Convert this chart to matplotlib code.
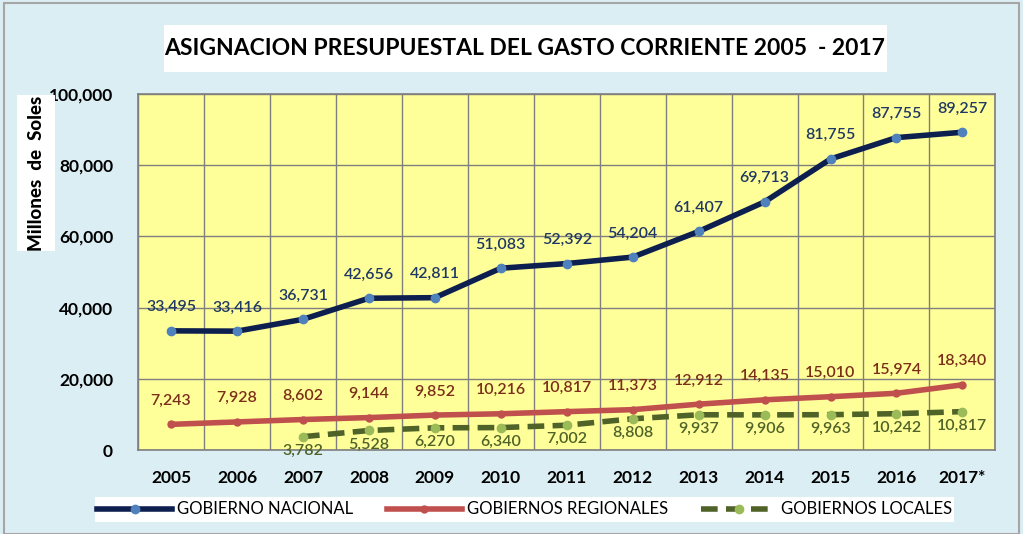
import numpy as np
import matplotlib
matplotlib.use("Agg")
import matplotlib.pyplot as plt
from matplotlib.patches import Rectangle
from matplotlib.ticker import FuncFormatter, MultipleLocator

plt.rcParams['font.family'] = ['Lato', 'DejaVu Sans']

years = ['2005', '2006', '2007', '2008', '2009', '2010', '2011', '2012',
         '2013', '2014', '2015', '2016', '2017*']
nacional = [33495, 33416, 36731, 42656, 42811, 51083, 52392, 54204,
            61407, 69713, 81755, 87755, 89257]
regional = [7243, 7928, 8602, 9144, 9852, 10216, 10817, 11373,
            12912, 14135, 15010, 15974, 18340]
locales_years = years[2:]
locales = [3782, 5528, 6270, 6340, 7002, 8808, 9937, 9906, 9963, 10242, 10817]

bg = '#dbeef4'
fig = plt.figure(figsize=(10.23, 5.34), dpi=100, facecolor=bg)
ax = fig.add_axes([0.135, 0.157, 0.838, 0.667])
ax.set_facecolor('#ffff99')

x = np.arange(len(years))
xl = np.arange(2, len(years))

ax.plot(x, nacional, color='#0d1f4f', lw=4, marker='o', ms=6,
        mfc='#4f81bd', mec='#4f81bd', zorder=4, label='GOBIERNO NACIONAL')
ax.plot(x, regional, color='#c0504d', lw=4, marker='o', ms=5,
        mfc='#c0504d', mec='#c0504d', zorder=4, label='GOBIERNOS REGIONALES')
ax.plot(xl, locales, color='#4f6228', lw=4, ls=(0, (3, 1.5)), marker='o', ms=6,
        mfc='#9bbb59', mec='#9bbb59', zorder=3, label='GOBIERNOS LOCALES')

for i, v in enumerate(nacional):
    ax.annotate(f'{v:,}', (x[i], v), xytext=(0, 12), textcoords='offset points',
                ha='center', va='bottom', fontsize=11.5, color='#1f3864',
                fontweight='semibold')
for i, v in enumerate(regional):
    ax.annotate(f'{v:,}', (x[i], v), xytext=(0, 12), textcoords='offset points',
                ha='center', va='bottom', fontsize=11.5, color='#7b2e1a',
                fontweight='semibold')
for i, v in enumerate(locales):
    ax.annotate(f'{v:,}', (xl[i], v), xytext=(0, -5), textcoords='offset points',
                ha='center', va='top', fontsize=11.5, color='#4f6228',
                fontweight='semibold')

ax.set_xlim(-0.5, len(years) - 0.5)
ax.set_ylim(0, 100000)
ax.yaxis.set_major_locator(MultipleLocator(20000))
ax.yaxis.set_major_formatter(FuncFormatter(lambda v, p: f'{int(v):,}'))
ax.set_xticks(x)
ax.set_xticklabels(years)
ax.set_xticks(np.arange(-0.5, len(years)), minor=True)
ax.grid(True, which='minor', axis='x', color='#7f7f7f', lw=1)
ax.grid(True, which='major', axis='y', color='#7f7f7f', lw=1)
ax.set_axisbelow(True)
ax.tick_params(which='both', length=0)
ax.tick_params(axis='x', pad=14)
ax.tick_params(axis='y', pad=18)
for lab in ax.get_xticklabels() + ax.get_yticklabels():
    lab.set_fontweight('bold')
    lab.set_fontsize(12.5)
for s in ax.spines.values():
    s.set_color('#7f7f7f')
    s.set_linewidth(1.2)

# title box
fig.patches.append(Rectangle((0.16, 0.866), 0.707, 0.088, transform=fig.transFigure,
                             facecolor='white', edgecolor='none'))
fig.text(0.513, 0.91, 'ASIGNACION PRESUPUESTAL DEL GASTO CORRIENTE 2005  - 2017',
         ha='center', va='center', fontsize=16.5, fontweight='bold')

# y label box
fig.patches.append(Rectangle((0.017, 0.53), 0.037, 0.292, transform=fig.transFigure,
                             facecolor='white', edgecolor='none'))
fig.text(0.036, 0.676, 'Millones  de  Soles', rotation=90, ha='center', va='center',
         fontsize=13.5, fontweight='black')

# legend box
fig.patches.append(Rectangle((0.093, 0.022), 0.84, 0.048, transform=fig.transFigure,
                             facecolor='white', edgecolor='none'))
leg = fig.legend(loc='center', bbox_to_anchor=(0.513, 0.046), ncol=3, frameon=False,
                 fontsize=12, handlelength=4.5, columnspacing=2.0, handletextpad=0.3)

# outer border
fig.patches.append(Rectangle((0.004, 0.0), 0.992, 0.995, transform=fig.transFigure,
                             facecolor='none', edgecolor='#a6a6a6', lw=1.5))

fig.savefig('out.png', dpi=100, facecolor=bg)
